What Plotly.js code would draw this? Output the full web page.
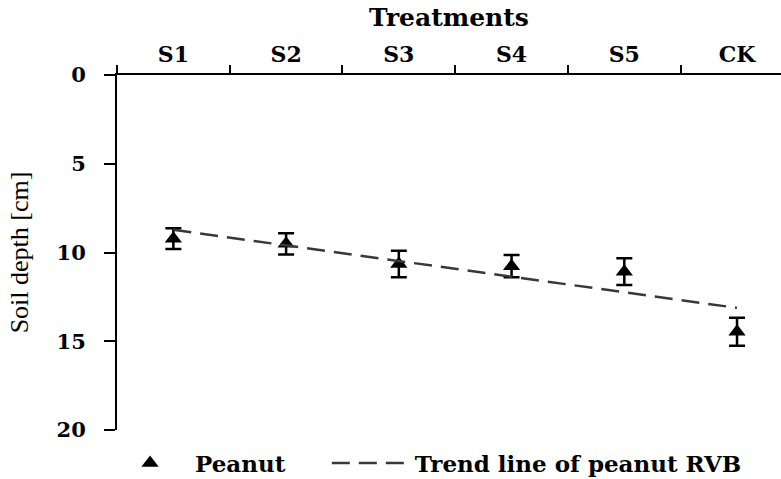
<!DOCTYPE html>
<html>
<head>
<meta charset="utf-8">
<script src="https://cdn.plot.ly/plotly-3.0.1.min.js"></script>
<style>html,body{margin:0;padding:0;background:#fff;}#chart{width:781px;height:479px;}</style>
</head>
<body>
<div id="chart"></div>
<script>
var categories = ["S1", "S2", "S3", "S4", "S5", "CK"];
var peanutDepth = [9.22, 9.51, 10.65, 10.77, 11.08, 14.46];
var peanutError = [0.58, 0.6, 0.75, 0.63, 0.75, 0.79];
var trendDepth = [8.72, 9.6, 10.5, 11.4, 12.25, 13.12];
var yTicks = [0, 5, 10, 15, 20];

var wide = "DejaVu Serif, serif";
var times = "Liberation Serif, Times New Roman, serif";

var traces = [
  {
    x: categories, y: peanutDepth, type: "scatter", mode: "markers", name: "Peanut",
    marker: {symbol: "triangle-up", size: 15, color: "#000"},
    error_y: {type: "data", array: peanutError, visible: true, color: "#000", thickness: 2.5, width: 8},
    cliponaxis: false, legend: "legend"
  },
  {
    x: categories, y: trendDepth, type: "scatter", mode: "lines", name: "Trend line of peanut RVB",
    line: {color: "#383838", width: 2.5, dash: "18px,9px"}, legend: "legend2"
  }
];

var legendFont = {family: wide, size: 23, weight: "bold", color: "#000"};

var layout = {
  width: 781, height: 479,
  margin: {l: 117, r: 0, t: 75, b: 49, autoexpand: false},
  paper_bgcolor: "#fff", plot_bgcolor: "#fff",
  font: {family: wide, color: "#000", size: 20},
  showlegend: true,
  legend: {orientation: "h", x: -0.018, xanchor: "left", y: -0.093, yanchor: "middle",
           font: legendFont, itemwidth: 80, bgcolor: "rgba(0,0,0,0)"},
  legend2: {orientation: "h", x: 0.316, xanchor: "left", y: -0.093, yanchor: "middle",
           font: legendFont, itemwidth: 78, bgcolor: "rgba(0,0,0,0)"},
  xaxis: {
    type: "category", side: "top", range: [-0.5, 5.39],
    showline: true, linecolor: "#000", linewidth: 2,
    ticks: "outside", tickson: "boundaries", ticklen: 8, tickwidth: 2, tickcolor: "#000",
    ticklabelstandoff: 2,
    showgrid: false, zeroline: false,
    tickfont: {family: wide, size: 22, weight: "bold", color: "#000"},
    title: {text: "Treatments", font: {family: wide, size: 25, weight: "bold", color: "#000"}, standoff: 7}
  },
  yaxis: {
    range: [20, 0], tickmode: "array", tickvals: yTicks, ticktext: yTicks.map(String),
    showline: true, linecolor: "#000", linewidth: 2,
    ticks: "outside", ticklen: 11, tickwidth: 2, tickcolor: "#000", ticklabelstandoff: 14,
    showgrid: false, zeroline: false,
    tickfont: {family: wide, size: 21, weight: "bold", color: "#000"},
    title: {text: "Soil depth [cm]", font: {family: times, size: 26, color: "#000"}, standoff: 20}
  }
};

Plotly.newPlot("chart", traces, layout, {displayModeBar: false, staticPlot: true});
</script>
</body>
</html>
